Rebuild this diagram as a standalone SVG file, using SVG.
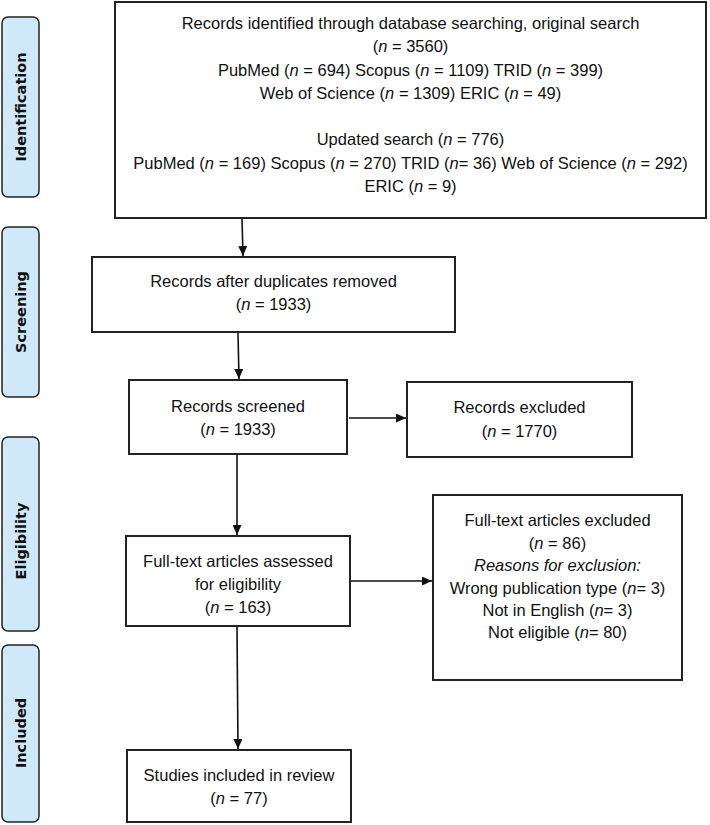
<svg xmlns="http://www.w3.org/2000/svg" width="710" height="825" viewBox="0 0 710 825">
<style>
.box{fill:#fff;stroke:#222;stroke-width:2}
.phase{fill:#cfe9fb;stroke:#222;stroke-width:1.5}
.t{font-family:"Liberation Sans",Arial,sans-serif;font-size:16.5px;fill:#111;text-anchor:middle}
.ph{font-family:"DejaVu Sans",Verdana,sans-serif;font-weight:bold;font-size:14.5px;fill:#111;text-anchor:middle}
.i{font-style:italic}
.c{stroke:#111;stroke-width:1.6;fill:none}
</style>
<defs>
<marker id="ah" viewBox="0 0 10 9" refX="10" refY="4.5" markerWidth="10" markerHeight="9" markerUnits="userSpaceOnUse" orient="auto">
<path d="M0,0 L10,4.5 L0,9 Z" fill="#111"/>
</marker>
</defs>

<g id="phase-identification">
<rect class="phase" x="2" y="17" width="37" height="180" rx="6"/>
<text class="ph" transform="translate(26,107) rotate(-90)">Identification</text>
</g>
<g id="phase-screening">
<rect class="phase" x="2" y="227" width="37" height="170" rx="6"/>
<text class="ph" transform="translate(26,312) rotate(-90)">Screening</text>
</g>
<g id="phase-eligibility">
<rect class="phase" x="2" y="437" width="37" height="194" rx="6"/>
<text class="ph" transform="translate(26,541) rotate(-90)">Eligibility</text>
</g>
<g id="phase-included">
<rect class="phase" x="2" y="645" width="37" height="177" rx="6"/>
<text class="ph" transform="translate(26,733) rotate(-90)">Included</text>
</g>

<g id="node-identified">
<rect class="box" x="115" y="2" width="591" height="216"/>
<text class="t" x="410.5" y="29">Records identified through database searching, original search</text>
<text class="t" x="410.5" y="52">(<tspan class="i">n</tspan> = 3560)</text>
<text class="t" x="410.5" y="76">PubMed (<tspan class="i">n</tspan> = 694) Scopus (<tspan class="i">n</tspan> = 1109) TRID (<tspan class="i">n</tspan> = 399)</text>
<text class="t" x="410.5" y="99">Web of Science (<tspan class="i">n</tspan> = 1309) ERIC (<tspan class="i">n</tspan> = 49)</text>
<text class="t" x="410.5" y="145">Updated search (<tspan class="i">n</tspan> = 776)</text>
<text class="t" x="410.5" y="169">PubMed (<tspan class="i">n</tspan> = 169) Scopus (<tspan class="i">n</tspan> = 270) TRID (<tspan class="i">n</tspan>= 36) Web of Science (<tspan class="i">n</tspan> = 292)</text>
<text class="t" x="410.5" y="192">ERIC (<tspan class="i">n</tspan> = 9)</text>
</g>

<g id="node-duplicates">
<rect class="box" x="92" y="257" width="363" height="75"/>
<text class="t" x="273.5" y="287">Records after duplicates removed</text>
<text class="t" x="273.5" y="310">(<tspan class="i">n</tspan> = 1933)</text>
</g>

<g id="node-screened">
<rect class="box" x="129" y="380" width="218" height="74"/>
<text class="t" x="238" y="412">Records screened</text>
<text class="t" x="238" y="435">(<tspan class="i">n</tspan> = 1933)</text>
</g>

<g id="node-excluded">
<rect class="box" x="407" y="382" width="225" height="75"/>
<text class="t" x="519.5" y="413">Records excluded</text>
<text class="t" x="519.5" y="437">(<tspan class="i">n</tspan> = 1770)</text>
</g>

<g id="node-assessed">
<rect class="box" x="126" y="536" width="224" height="90"/>
<text class="t" x="238" y="567">Full-text articles assessed</text>
<text class="t" x="238" y="590">for eligibility</text>
<text class="t" x="238" y="613">(<tspan class="i">n</tspan> = 163)</text>
</g>

<g id="node-fulltext-excluded">
<rect class="box" x="433" y="495" width="249" height="185"/>
<text class="t" x="557.5" y="526">Full-text articles excluded</text>
<text class="t" x="557.5" y="549">(<tspan class="i">n</tspan> = 86)</text>
<text class="t i" x="557.5" y="571">Reasons for exclusion:</text>
<text class="t" x="557.5" y="594">Wrong publication type (<tspan class="i">n</tspan>= 3)</text>
<text class="t" x="557.5" y="616">Not in English (<tspan class="i">n</tspan>= 3)</text>
<text class="t" x="557.5" y="638">Not eligible (<tspan class="i">n</tspan>= 80)</text>
</g>

<g id="node-included">
<rect class="box" x="127" y="750" width="224" height="72"/>
<text class="t" x="239" y="781">Studies included in review</text>
<text class="t" x="239" y="804">(<tspan class="i">n</tspan> = 77)</text>
</g>

<g id="connectors">
<line class="c" x1="242" y1="219" x2="243" y2="256" marker-end="url(#ah)"/>
<line class="c" x1="238" y1="333" x2="239" y2="379" marker-end="url(#ah)"/>
<line class="c" x1="349" y1="418" x2="406" y2="418" marker-end="url(#ah)"/>
<line class="c" x1="237" y1="455" x2="237" y2="535" marker-end="url(#ah)"/>
<line class="c" x1="351" y1="581" x2="432" y2="581" marker-end="url(#ah)"/>
<line class="c" x1="237" y1="627" x2="238" y2="749" marker-end="url(#ah)"/>
</g>
</svg>
